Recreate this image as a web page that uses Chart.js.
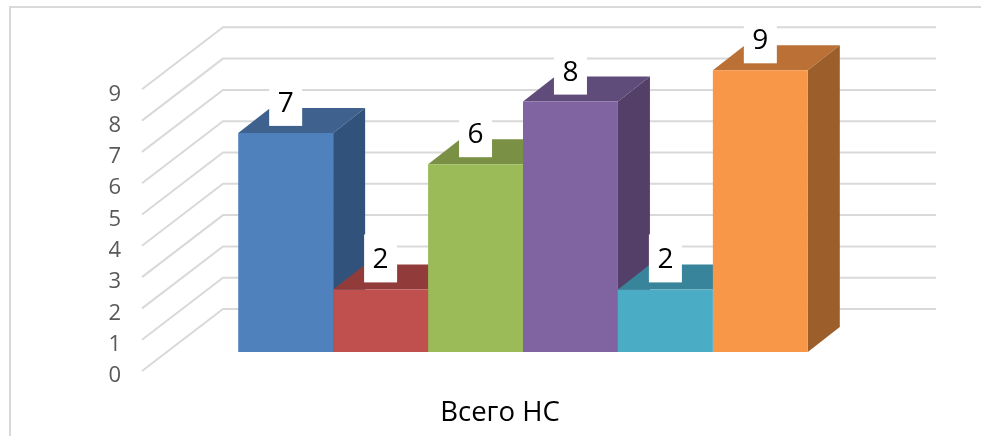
<!DOCTYPE html>
<html>
<head>
<meta charset="utf-8">
<title>Всего НС</title>
<script src="https://cdn.jsdelivr.net/npm/chart.js@4/dist/chart.umd.min.js"></script>
<style>
    html, body { margin: 0; padding: 0; background: #fff; overflow: hidden; }
    canvas { display: block; }
</style>
</head>
<body>
<canvas id="chart" width="981" height="436"></canvas>
<script>
const categories = ['Всего НС'];
const seriesValues = [7, 2, 6, 8, 2, 9];
const tickLabels = [0, 1, 2, 3, 4, 5, 6, 7, 8, 9];

const frontColors = ['#4f81bd', '#c0504d', '#9bbb59', '#8064a2', '#4bacc6', '#f99748'];
const topColors = ['#3e618e', '#913c3a', '#7a9145', '#604c7b', '#38849a', '#bb7036'];
const sideColors = ['#31527a', '#7c3432', '#657a3a', '#533f67', '#30707f', '#9c5e2b'];

// 3D look: the walls sit behind the axis plane, bars sit in between
const wallDepth = { x: 81, y: -62 };
const barOffset = { x: 25, y: -19 };
const barDepth = { x: 32, y: -25 };
const gridColor = '#d9d9d9';

function quad(ctx, pts, color) {
    ctx.fillStyle = color;
    ctx.beginPath();
    ctx.moveTo(pts[0][0], pts[0][1]);
    for (let i = 1; i < pts.length; i++) ctx.lineTo(pts[i][0], pts[i][1]);
    ctx.closePath();
    ctx.fill();
}

const frame3d = {
    id: 'frame3d',
    beforeDraw(chart) {
        const ctx = chart.ctx;
        // outer chart border, only top and left are in the picture
        ctx.save();
        ctx.strokeStyle = gridColor;
        ctx.lineWidth = 2;
        ctx.beginPath();
        ctx.moveTo(10, 436);
        ctx.lineTo(10, 7);
        ctx.lineTo(981, 7);
        ctx.stroke();
        ctx.restore();
    },
    beforeDatasetsDraw(chart) {
        const ctx = chart.ctx;
        const area = chart.chartArea;
        const yScale = chart.scales.y;

        // walls
        ctx.save();
        ctx.strokeStyle = gridColor;
        ctx.lineWidth = 2;
        tickLabels.forEach(t => {
            const y = yScale.getPixelForValue(t);
            ctx.beginPath();
            ctx.moveTo(area.left, y);
            ctx.lineTo(area.left + wallDepth.x, y + wallDepth.y);
            ctx.lineTo(area.right + wallDepth.x + 1, y + wallDepth.y);
            ctx.stroke();
        });
        ctx.restore();

        // tops and sides go left to right, the fronts are drawn over them by the library
        chart.data.datasets.forEach((ds, i) => {
            const bar = chart.getDatasetMeta(i).data[0];
            const props = bar.getProps(['x', 'y', 'base', 'width'], true);
            const l = props.x - props.width / 2 + barOffset.x;
            const r = props.x + props.width / 2 + barOffset.x;
            const t = props.y + barOffset.y;
            const b = props.base + barOffset.y;
            const dx = barDepth.x, dy = barDepth.y;
            quad(ctx, [[l, t], [r, t], [r + dx, t + dy], [l + dx, t + dy]], topColors[i]);
            quad(ctx, [[r, t], [r + dx, t + dy], [r + dx, b + dy], [r, b]], sideColors[i]);
        });

        // the library's bars are moved onto the bar plane
        ctx.save();
        ctx.translate(barOffset.x, barOffset.y);
    },
    afterDatasetsDraw(chart) {
        const ctx = chart.ctx;
        ctx.restore();

        // value labels on white boxes
        ctx.save();
        ctx.textAlign = 'center';
        ctx.textBaseline = 'middle';
        ctx.font = '28px "Open Sans"';
        chart.data.datasets.forEach((ds, i) => {
            const bar = chart.getDatasetMeta(i).data[0];
            const props = bar.getProps(['x', 'y'], true);
            const cx = props.x + barOffset.x;
            const bottom = props.y + barOffset.y - 7;
            ctx.fillStyle = '#fff';
            ctx.fillRect(cx - 16.5, bottom - 48, 33, 48);
            ctx.fillStyle = '#000';
            ctx.fillText(String(ds.data[0]), cx, bottom - 22);
        });
        ctx.restore();
    }
};

new Chart(document.getElementById('chart'), {
    type: 'bar',
    data: {
        labels: categories,
        datasets: seriesValues.map((v, i) => ({
            label: 'Ряд ' + (i + 1),
            data: [v],
            backgroundColor: frontColors[i],
            borderWidth: 0,
            clip: false
        }))
    },
    options: {
        responsive: false,
        animation: false,
        categoryPercentage: 0.8,
        barPercentage: 1,
        layout: { padding: { top: 89.3, right: 127, left: 0, bottom: 0 } },
        plugins: { legend: { display: false }, title: { display: false }, tooltip: { enabled: false } },
        scales: {
            x: {
                grid: { display: false },
                border: { display: false },
                ticks: { color: '#000', font: { family: '"Open Sans"', size: 27.5 }, padding: 18, labelOffset: 2 },
                afterFit(scale) { scale.height = 65; }
            },
            y: {
                min: 0,
                max: 9,
                grid: { display: false },
                border: { display: false },
                ticks: {
                    stepSize: 1,
                    color: '#595959',
                    padding: 13,
                    labelOffset: 5,
                    font: { family: '"Open Sans"', size: 22 }
                },
                afterFit(scale) { scale.width = 142; }
            }
        }
    },
    plugins: [frame3d]
});
</script>
</body>
</html>
